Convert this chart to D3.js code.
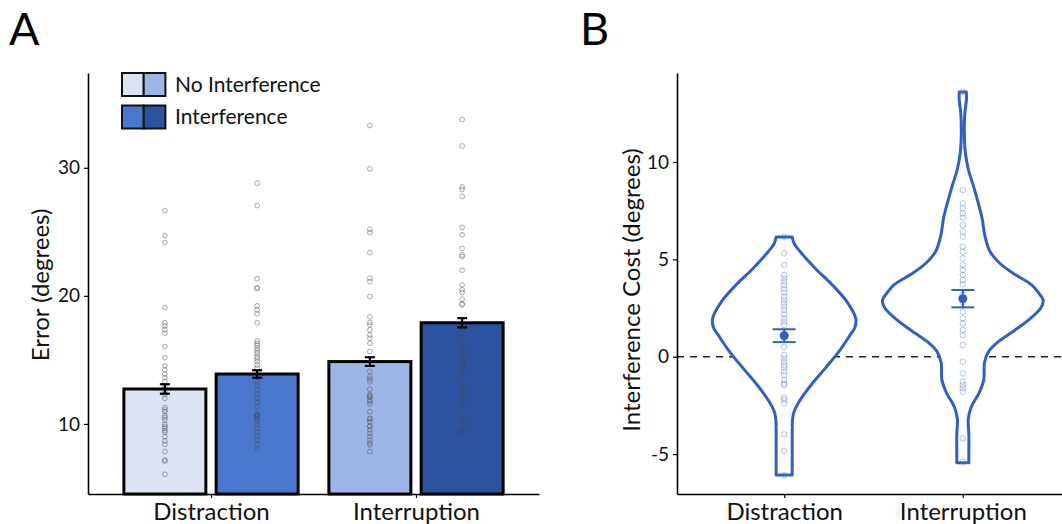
<!DOCTYPE html>
<html>
<head>
<meta charset="utf-8">
<script src="https://cdn.jsdelivr.net/npm/d3@7"></script>
<style>
  html, body { margin: 0; padding: 0; background: #fff; }
  svg { display: block; font-family: Lato, "Open Sans", sans-serif; }
</style>
</head>
<body>
<svg id="chart" width="1062" height="524"></svg>
<script>
// ---------------- DATA ----------------
const categories = ["Distraction", "Interruption"];
const conditions = ["No Interference", "Interference"];
const conditionColors = { "Distraction": ["#dce3f4", "#4a78cf"], "Interruption": ["#9eb5e7", "#2c52a0"] };

const meanNoInt = [12.73, 14.87];
const meanInt   = [13.90, 17.90];
const seNoInt   = [0.37, 0.34];
const seInt     = [0.29, 0.36];

const ptsDistNoInt = [26.66, 24.7, 24.16, 19.09, 17.9, 17.66, 17.37, 17.08, 16.04, 15.18, 14.53, 14.22, 13.9, 13.62,
  13.3, 12.99, 12.6, 12.3, 12.0, 11.28, 10.96, 10.65, 10.31, 9.97, 9.66, 9.35, 9.01, 8.67, 8.41, 7.84, 7.19, 7.1, 6.07,
  11.1, 10.5, 9.8, 9.5];
const ptsDistInt = [28.8, 27.05, 21.33, 20.63, 20.58, 19.22, 18.9, 18.6, 17.9, 16.48, 16.3, 16.12, 15.9, 15.7, 15.5,
  15.26, 15.08, 14.87, 14.6, 14.35, 13.3, 13.0, 12.66, 12.32, 12.0, 11.7, 11.35, 10.7, 10.57, 10.39, 10.18, 9.92,
  9.66, 9.35, 9.09, 8.75, 8.41, 8.05, 10.8, 10.62];
const ptsIntNoInt = [33.3, 29.92, 25.2, 24.95, 23.38, 21.38, 21.12, 19.95, 18.38, 17.92, 17.73, 17.34, 16.95, 16.69,
  16.3, 15.65, 14.09, 13.7, 13.3, 13.5, 12.71, 12.27, 12.08, 11.88, 11.56, 11.74, 10.96, 10.44, 10.37, 10.18, 9.84,
  9.53, 9.27, 9.01, 8.75, 8.5, 8.36, 7.84, 12.19, 9.79];
const ptsIntInt = [33.77, 31.7, 28.5, 28.3, 27.76, 25.34, 24.77, 23.7, 23.2, 23.07, 22.0, 20.86, 20.47, 20.26, 19.74,
  19.38, 19.3, 17.34, 16.82, 15.91, 15.83, 15.39, 15.13, 15.0, 14.74, 14.48, 13.96, 13.83, 12.92, 12.66, 12.4, 12.14,
  11.82, 11.48, 10.44, 10.18, 9.53, 9.4];

const yTicksA = [10, 20, 30];
const yTicksB = [-5, 0, 5, 10];

const costMean = [1.08, 2.98];
const costSE   = [0.33, 0.445];

const costDistraction = [6.15, 5.31, 4.71, 4.2, 4.03, 3.85, 3.68, 3.48, 3.31, 3.08, 2.91, 2.74, 2.57, 2.4, 2.18,
  1.97, 1.8, 1.63, 1.2, 0.9, 0.51, 0.09, -0.08, -0.26, -0.43, -0.56, -0.77, -0.94, -1.2, -1.37, -1.45, -2.1, -2.22,
  -2.39, -3.99, -4.84, -6.08];
const costInterruption = [13.6, 10.87, 8.56, 7.88, 7.62, 7.36, 7.14, 6.76, 6.42, 6.16, 5.65, 5.39, 5.05, 4.71, 4.45,
  4.2, 3.94, 3.72, 3.2, 2.8, 2.31, 1.97, 1.71, 1.37, 1.11, 0.6, -0.26, -0.85, -1.28, -1.45, -1.62, -1.8, -4.19, -5.39];

// violin density profiles (value, relative density)
const violinDistValue   = [6.15, 5.8, 5.39, 4.54, 3.68, 2.83, 1.97, 1.5, 1.11, 0.26, -0.6, -1.45, -2.31, -2.8, -3.16, -4.02, -4.88, -5.6, -6.08];
const violinDistDensity = [0.10, 0.125, 0.2, 0.385, 0.6, 0.78, 0.89, 0.88, 0.82, 0.68, 0.51, 0.335, 0.185, 0.125, 0.105, 0.1, 0.1, 0.1, 0.1];
const violinIntValue   = [13.6, 13.2, 12.5, 11.5, 10.5, 9.6, 8.8, 8.0, 7.1, 6.2, 5.39, 4.8, 4.3, 3.68, 3.26, 2.9, 2.5, 2.0, 1.37, 0.7, 0.26, -0.3, -1.2, -1.88, -2.57, -3.2, -4.0, -5.0, -5.44];
const violinIntDensity = [0.044, 0.045, 0.025, 0.019, 0.031, 0.07, 0.13, 0.185, 0.24, 0.275, 0.34, 0.46, 0.62, 0.86, 0.945, 1.0, 0.97, 0.85, 0.65, 0.42, 0.32, 0.27, 0.26, 0.2, 0.106, 0.068, 0.075, 0.075, 0.075];

// ---------------- DRAW ----------------
const svg = d3.select("#chart");
const blue = "#3161c0";
const plainFmt = d => String(d);

// ===== Panel A =====
const A = { left: 88, right: 539, top: 73, bottom: 494 };
const xA = d3.scalePoint().domain(categories).range([A.left, A.right]).padding(0.6);
const stepA = xA.step();
const yA = d3.scaleLinear().domain([4.53, 37.4]).range([A.bottom, A.top]);
const dodge = [-0.225 * stepA, 0.225 * stepA];
const barW = 0.4 * stepA;

const gA = svg.append("g");

const barData = [];
categories.forEach((c, i) => {
  barData.push({ cat: c, k: 0, mean: meanNoInt[i], se: seNoInt[i] });
  barData.push({ cat: c, k: 1, mean: meanInt[i], se: seInt[i] });
});
const ptsMap = {
  "Distraction-0": ptsDistNoInt, "Distraction-1": ptsDistInt,
  "Interruption-0": ptsIntNoInt, "Interruption-1": ptsIntInt
};

gA.selectAll("rect.bar").data(barData).join("rect")
  .attr("class", "bar")
  .attr("x", d => xA(d.cat) + dodge[d.k] - barW / 2)
  .attr("width", barW)
  .attr("y", d => yA(d.mean))
  .attr("height", d => yA.range()[0] - yA(d.mean))
  .attr("fill", d => conditionColors[d.cat][d.k])
  .attr("stroke", "#000").attr("stroke-width", 3);

barData.forEach(b => {
  const cx = xA(b.cat) + dodge[b.k];
  gA.append("g").selectAll("circle").data(ptsMap[b.cat + "-" + b.k]).join("circle")
    .attr("cx", cx).attr("cy", d => yA(d)).attr("r", 2.4)
    .attr("fill", "none").attr("stroke", "rgba(70,70,70,0.5)").attr("stroke-width", 0.9);
});

barData.forEach(b => {
  const cx = xA(b.cat) + dodge[b.k];
  const g = gA.append("g").attr("stroke", "#000").attr("stroke-width", 2.2);
  g.append("line").attr("x1", cx).attr("x2", cx).attr("y1", yA(b.mean - b.se)).attr("y2", yA(b.mean + b.se));
  g.append("line").attr("x1", cx - 5).attr("x2", cx + 5).attr("y1", yA(b.mean - b.se)).attr("y2", yA(b.mean - b.se));
  g.append("line").attr("x1", cx - 5).attr("x2", cx + 5).attr("y1", yA(b.mean + b.se)).attr("y2", yA(b.mean + b.se));
});

const axAy = gA.append("g").attr("transform", `translate(${A.left},0)`)
  .call(d3.axisLeft(yA).tickValues(yTicksA).tickFormat(plainFmt).tickSize(4).tickSizeOuter(0).tickPadding(4));
const axAx = gA.append("g").attr("transform", `translate(0,${A.bottom})`)
  .call(d3.axisBottom(xA).tickSize(4).tickSizeOuter(0).tickPadding(5));

// legend
const leg = gA.append("g");
conditions.forEach((cond, r) => {
  const y0 = 73 + r * 32.5;
  categories.forEach((c, j) => {
    leg.append("rect").attr("x", 122 + j * 21.7).attr("y", y0).attr("width", 21.7).attr("height", 23)
      .attr("fill", conditionColors[c][r]).attr("stroke", "#111").attr("stroke-width", 2);
  });
  leg.append("text").attr("x", 175).attr("y", y0 + 18.5).attr("font-size", 21).attr("fill", "#111").text(cond);
});

svg.append("text").attr("x", 9).attr("y", 45).attr("font-size", 45).attr("fill", "#000").text("A");
svg.append("text").attr("transform", "translate(49,285) rotate(-90)").attr("text-anchor", "middle")
  .attr("font-size", 24).attr("fill", "#111").text("Error (degrees)");

// ===== Panel B =====
const B = { left: 677, right: 1070, top: 73, bottom: 494 };
const xB = d3.scalePoint().domain(categories).range([B.left, B.right]).padding(0.6);
const stepB = xB.step();
const yB = d3.scaleLinear().domain([-7.05, 14.57]).range([B.bottom, B.top]);
const wB = d3.scaleLinear().domain([0, 1]).range([0, 0.45 * stepB]);

const gB = svg.append("g");

gB.append("line").attr("x1", B.left).attr("x2", 1062).attr("y1", yB(0)).attr("y2", yB(0))
  .attr("stroke", "#222").attr("stroke-width", 1.6).attr("stroke-dasharray", "7,6");

const violins = [
  { cat: "Distraction", v: violinDistValue, d: violinDistDensity, pts: costDistraction },
  { cat: "Interruption", v: violinIntValue, d: violinIntDensity, pts: costInterruption }
];
const area = d3.area().curve(d3.curveCatmullRom.alpha(0.5));
violins.forEach((vl, i) => {
  const cx = xB(vl.cat);
  const prof = vl.v.map((v, k) => ({ v, d: vl.d[k] }));
  area.y(p => yB(p.v)).x0(p => cx - wB(p.d)).x1(p => cx + wB(p.d));
  gB.append("path").datum(prof).attr("d", area)
    .attr("fill", "#fff").attr("stroke", blue).attr("stroke-width", 3).attr("stroke-linejoin", "round");
  gB.append("g").selectAll("circle").data(vl.pts).join("circle")
    .attr("cx", cx).attr("cy", d => yB(d)).attr("r", 2.8)
    .attr("fill", "none").attr("stroke", "rgba(80,115,215,0.42)").attr("stroke-width", 1);
  const m = costMean[i], s = costSE[i];
  const g = gB.append("g").attr("stroke", blue).attr("stroke-width", 2);
  g.append("line").attr("x1", cx).attr("x2", cx).attr("y1", yB(m - s)).attr("y2", yB(m + s));
  g.append("line").attr("x1", cx - 11.5).attr("x2", cx + 11.5).attr("y1", yB(m - s)).attr("y2", yB(m - s));
  g.append("line").attr("x1", cx - 11.5).attr("x2", cx + 11.5).attr("y1", yB(m + s)).attr("y2", yB(m + s));
  gB.append("circle").attr("cx", cx).attr("cy", yB(m)).attr("r", 4.5).attr("fill", blue);
});

const axBy = gB.append("g").attr("transform", `translate(${B.left},0)`)
  .call(d3.axisLeft(yB).tickValues(yTicksB).tickFormat(plainFmt).tickSize(4).tickSizeOuter(0).tickPadding(4));
const axBx = gB.append("g").attr("transform", `translate(0,${B.bottom})`)
  .call(d3.axisBottom(xB).tickSize(4).tickSizeOuter(0).tickPadding(5));

svg.append("text").attr("x", 580).attr("y", 45).attr("font-size", 45).attr("fill", "#000").text("B");
svg.append("text").attr("transform", "translate(640,290) rotate(-90)").attr("text-anchor", "middle")
  .attr("font-size", 24).attr("fill", "#111").text("Interference Cost (degrees)");

// axis styling
[axAy, axAx, axBy, axBx].forEach(ax => {
  ax.select(".domain").attr("stroke", "#000").attr("stroke-width", 1.6);
  ax.selectAll(".tick line").attr("stroke", "#000").attr("stroke-width", 1.2);
  ax.selectAll("text").attr("fill", "#111").attr("font-family", "Lato, sans-serif");
});
[axAy, axBy].forEach(ax => ax.selectAll("text").attr("font-size", 19));
[axAx, axBx].forEach(ax => ax.selectAll("text").attr("font-size", 24));
</script>
</body>
</html>
